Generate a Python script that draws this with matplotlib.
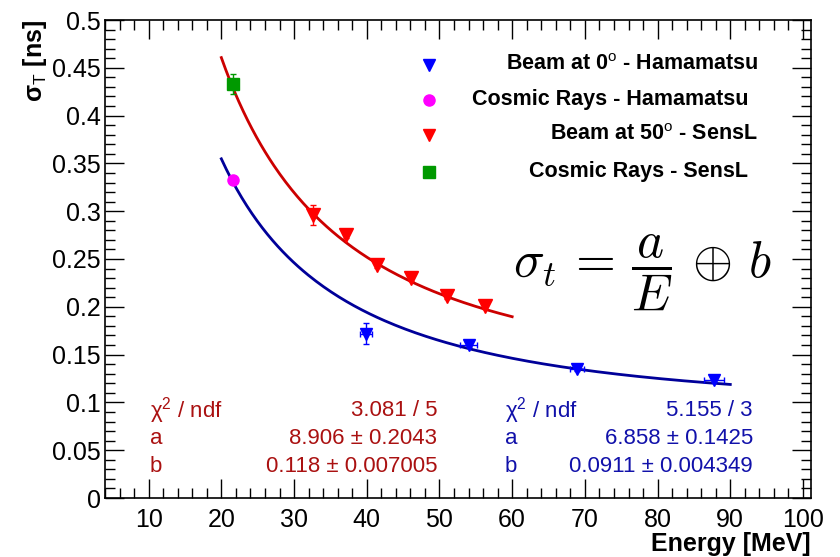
import numpy as np
import matplotlib
matplotlib.use("Agg")
import matplotlib.pyplot as plt
from matplotlib.ticker import MultipleLocator

plt.rcParams['font.family'] = ['Liberation Sans', 'DejaVu Sans']
plt.rcParams['mathtext.fontset'] = 'custom'
plt.rcParams['mathtext.rm'] = 'Liberation Sans'
plt.rcParams['mathtext.it'] = 'Liberation Sans:italic'
plt.rcParams['mathtext.bf'] = 'Liberation Sans:bold'

# --- data ---
# Beam at 0 deg - Hamamatsu
e_beam0 = [39.9, 54.0, 68.9, 87.8]
s_beam0 = [0.172, 0.160, 0.135, 0.123]
ex_beam0 = [0.8, 1.2, 1.0, 1.4]
ey_beam0 = [0.011, 0.002, 0.002, 0.002]

# Cosmic rays - Hamamatsu
e_cos_h = [21.6]
s_cos_h = [0.333]
ey_cos_h = [0.004]

# Beam at 50 deg - SensL
e_beam50 = [32.6, 37.2, 41.4, 46.1, 51.1, 56.2]
s_beam50 = [0.296, 0.275, 0.244, 0.230, 0.211, 0.201]
ey_beam50 = [0.010, 0.003, 0.003, 0.003, 0.003, 0.003]

# Cosmic rays - SensL
e_cos_s = [21.6]
s_cos_s = [0.433]
ey_cos_s = [0.010]

# fit results (sigma = a/E (+) b)
a_red, b_red = 8.906, 0.118
a_blue, b_blue = 6.858, 0.0911
range_red = (20, 60)
range_blue = (20, 90)

stats_red = [("χ$^{2}$ / ndf", "3.081 / 5"),
             ("a", "8.906 ± 0.2043"),
             ("b", "0.118 ± 0.007005")]
stats_blue = [("χ$^{2}$ / ndf", "5.155 / 3"),
              ("a", "6.858 ± 0.1425"),
              ("b", "0.0911 ± 0.004349")]

legend_rows = [("Beam at 0$^{\\rm o}$ - Hamamatsu", 'v', '#0000ff', 758),
               ("Cosmic Rays - Hamamatsu", 'o', '#ff00ff', 748),
               ("Beam at 50$^{\\rm o}$ - SensL", 'v', '#ff0000', 758),
               ("Cosmic Rays - SensL", 's', '#009900', 748)]

W, H = 840, 557
fig = plt.figure(figsize=(8.4, 5.57), dpi=100)
ax = fig.add_axes([105 / W, 1 - 498 / H, (811 - 105) / W, (498 - 20) / H])


def fitfun(E, a, b):
    return np.sqrt((a / E) ** 2 + b ** 2)


xr = np.linspace(*range_red, 200)
xb = np.linspace(*range_blue, 200)
ax.plot(xr, fitfun(xr, a_red, b_red), color='#cc0000', lw=2, zorder=2)
ax.plot(xb, fitfun(xb, a_blue, b_blue), color='#000099', lw=2, zorder=2)

ax.errorbar(e_beam0, s_beam0, xerr=ex_beam0, yerr=ey_beam0, fmt='v', color='#0000ff',
            ms=9, capsize=2.5, elinewidth=1, zorder=3)
ax.errorbar(e_beam50, s_beam50, yerr=ey_beam50, fmt='v', color='#ff0000',
            ms=10, capsize=2.5, elinewidth=1, zorder=3)
ax.errorbar(e_cos_h, s_cos_h, yerr=ey_cos_h, fmt='o', color='#ff00ff',
            ms=8, capsize=2.5, elinewidth=1, zorder=3)
ax.errorbar(e_cos_s, s_cos_s, yerr=ey_cos_s, fmt='s', color='#009900',
            ms=8, capsize=2.5, elinewidth=1, zorder=3)

ax.set_xlim(4, 101.1)
ax.set_ylim(0, 0.5)
ax.xaxis.set_major_locator(MultipleLocator(10))
ax.xaxis.set_minor_locator(MultipleLocator(2))
ax.yaxis.set_major_locator(MultipleLocator(0.05))
ax.yaxis.set_minor_locator(MultipleLocator(0.01))
ax.set_xticks([10, 20, 30, 40, 50, 60, 70, 80, 90, 100])
ax.set_xticklabels(['10', '20', '30', '40', '50', '60', '70', '80', '90', '100'])
ax.set_yticks([0, 0.05, 0.1, 0.15, 0.2, 0.25, 0.3, 0.35, 0.4, 0.45, 0.5])
ax.set_yticklabels(['0', '0.05', '0.1', '0.15', '0.2', '0.25', '0.3', '0.35',
                    '0.4', '0.45', '0.5'])
ax.tick_params(which='both', direction='in', top=True, right=True, labelsize=18,
               width=1)
ax.tick_params(which='major', length=14)
ax.tick_params(which='minor', length=7)
ax.tick_params(axis='x', pad=7)
ax.tick_params(axis='y', pad=3)
for sp in ax.spines.values():
    sp.set_linewidth(1.2)

ax.set_xlabel("Energy [MeV]", fontsize=18, fontweight='bold', loc='right', labelpad=0)
ax.set_ylabel("σ$_{\\rm T}$ [ns]", fontsize=18, fontweight='bold', loc='top', labelpad=2)

# legend drawn by hand to follow the original layout
for i, (lab, mk, col, xr_txt) in enumerate(legend_rows):
    yy = [65, 100, 135, 172][i]
    ax.plot([429 / W], [1 - yy / H], marker=mk, color=col, ms=8, ls='none',
            transform=fig.transFigure, clip_on=False)
    fig.text(xr_txt / W, 1 - yy / H, lab, ha='right', va='center', fontsize=15.5,
             fontweight='bold')

# formula
fig.text(643 / W, 1 - 272 / H, r'$\sigma_t\,=\,\dfrac{a}{E}\,\oplus\,b$', ha='center',
         va='center', fontsize=37, math_fontfamily='cm')

# fit statistics
stat_font = ['Liberation Sans Narrow', 'Liberation Sans', 'DejaVu Sans']
for i, (k, v) in enumerate(stats_red):
    yy = 1 - [411, 439, 466][i] / H
    fig.text(150 / W, yy, k, color='#aa1111', fontsize=16, va='center', ha='left',
             family=stat_font)
    fig.text(437 / W, yy, v, color='#aa1111', fontsize=16, va='center', ha='right',
             family=stat_font)
for i, (k, v) in enumerate(stats_blue):
    yy = 1 - [411, 439, 466][i] / H
    fig.text(505 / W, yy, k, color='#1111aa', fontsize=16, va='center', ha='left',
             family=stat_font)
    fig.text(753 / W, yy, v, color='#1111aa', fontsize=16, va='center', ha='right',
             family=stat_font)

fig.savefig("out.png", dpi=100)
